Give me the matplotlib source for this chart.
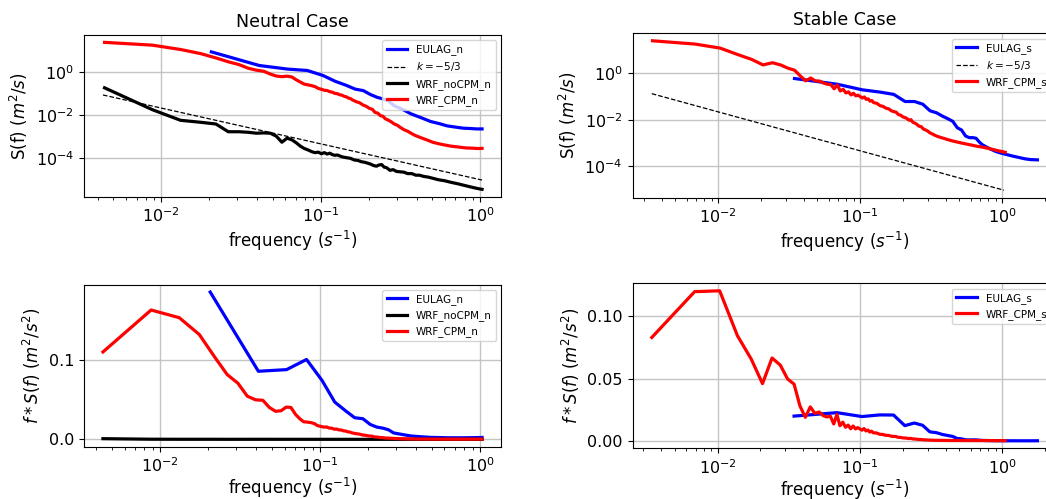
import numpy as np
import matplotlib
matplotlib.use("Agg")
import matplotlib.pyplot as plt
from matplotlib.ticker import NullLocator, FixedLocator

# ── Neutral case spectra S(f) ─────────────────────────────────────────
EULAG_N_F = [0.0206, 0.0412, 0.0618, 0.0824, 0.103, 0.1236, 0.1442, 0.1648,
             0.1854, 0.206, 0.2266, 0.2472, 0.2678, 0.2884, 0.33, 0.37, 0.43,
             0.49, 0.56, 0.62, 0.70, 0.78, 0.87, 0.95, 1.03]
EULAG_N_S = [9.0, 2.08, 1.42, 1.22, 0.72, 0.38, 0.25, 0.165, 0.14, 0.091,
             0.068, 0.057, 0.045, 0.028, 0.018, 0.0115, 0.0075, 0.0051,
             0.0040, 0.0032, 0.0028, 0.0025, 0.0024, 0.0023, 0.0023]

WRF_CPM_N_F = [0.0044, 0.0088, 0.0132, 0.0176, 0.022, 0.0263, 0.0307, 0.0351,
               0.0395, 0.0439, 0.0483, 0.0527, 0.0571, 0.0615, 0.0658, 0.0702,
               0.0746, 0.079, 0.0834, 0.0878, 0.0922, 0.0966, 0.101, 0.1054,
               0.1098, 0.1141, 0.1185, 0.1229, 0.1273, 0.1317, 0.1361, 0.1405,
               0.1449, 0.1493, 0.1537, 0.158, 0.1668, 0.1756, 0.1844, 0.1932,
               0.2019, 0.2107, 0.2195, 0.2283, 0.2371, 0.2459, 0.2546, 0.2634,
               0.2766, 0.2898, 0.303, 0.3161, 0.3337, 0.3513, 0.3688, 0.3908,
               0.4127, 0.439, 0.4698, 0.505, 0.549, 0.60, 0.66, 0.73, 0.81,
               0.90, 0.97, 1.03]
WRF_CPM_N_S = [25.0, 18.5, 11.6, 7.5, 4.7, 3.1, 2.3, 1.55, 1.26, 1.12, 0.83,
               0.67, 0.63, 0.66, 0.61, 0.45, 0.35, 0.28, 0.26, 0.24, 0.215,
               0.178, 0.162, 0.146, 0.142, 0.125, 0.118, 0.104, 0.101, 0.090,
               0.086, 0.076, 0.072, 0.063, 0.060, 0.052, 0.043, 0.038, 0.030,
               0.026, 0.021, 0.019, 0.0135, 0.0125, 0.0095, 0.0090, 0.0068,
               0.0061, 0.0050, 0.0039, 0.0034, 0.0027, 0.0021, 0.0018, 0.00145,
               0.00115, 0.00098, 0.00082, 0.00068, 0.00055, 0.00047, 0.00041,
               0.00036, 0.00033, 0.00030, 0.00029, 0.00028, 0.000285]

WRF_NOCPM_N_F = [0.0044, 0.0088, 0.0132, 0.0176, 0.022, 0.0263, 0.0307,
                 0.0351, 0.0395, 0.0439, 0.0483, 0.0527, 0.0571, 0.0615,
                 0.0658, 0.0702, 0.0746, 0.079, 0.0834, 0.0878, 0.0922,
                 0.0966, 0.101, 0.1054, 0.1098, 0.1141, 0.1185, 0.1229,
                 0.1273, 0.1361, 0.1449, 0.1537, 0.1624, 0.1712, 0.18, 0.1888,
                 0.1976, 0.2063, 0.2151, 0.2239, 0.2327, 0.2415, 0.2502, 0.259,
                 0.2722, 0.2854, 0.2986, 0.3161, 0.3337, 0.3513, 0.3732,
                 0.3952, 0.4171, 0.4435, 0.4742, 0.505, 0.549, 0.60, 0.66,
                 0.73, 0.81, 0.90, 0.97, 1.03]
WRF_NOCPM_N_S = [0.19, 0.018, 0.0058, 0.0047, 0.0039, 0.0017, 0.0017, 0.0016,
                 0.00145, 0.0015, 0.00145, 0.00105, 0.00055, 0.00085, 0.00072,
                 0.00052, 0.00036, 0.00028, 0.00024, 0.00020, 0.00018,
                 0.00019, 0.00016, 0.00018, 0.000155, 0.00017, 0.000145,
                 0.000135, 0.00014, 0.000115, 0.000105, 9.8e-5, 8.2e-5, 7.8e-5,
                 6.8e-5, 6.4e-5, 5.8e-5, 5.2e-5, 4.5e-5, 4.2e-5, 4.8e-5, 5.0e-5,
                 3.8e-5, 3.6e-5, 2.7e-5, 2.9e-5, 2.4e-5, 2.3e-5, 2.2e-5, 1.9e-5,
                 1.9e-5, 1.6e-5, 1.6e-5, 1.4e-5, 1.3e-5, 1.15e-5, 9.8e-6,
                 8.8e-6, 7.4e-6, 6.3e-6, 5.2e-6, 4.3e-6, 3.8e-6, 3.5e-6]

SLOPE_N_F = [0.0043, 1.03]
SLOPE_N_S = [0.088, 0.95e-5]

# ── Stable case spectra S(f) ──────────────────────────────────────────
EULAG_S_F = [0.0345, 0.069, 0.1035, 0.138, 0.1725, 0.207, 0.2415, 0.276,
             0.3105, 0.345, 0.3795, 0.414, 0.4485, 0.483, 0.5175, 0.552,
             0.586, 0.621, 0.655, 0.69, 0.724, 0.759, 0.828, 0.897, 0.966,
             1.035, 1.173, 1.311, 1.449, 1.587, 1.77]
EULAG_S_S = [0.58, 0.33, 0.19, 0.152, 0.121, 0.060, 0.060, 0.046, 0.024,
             0.0197, 0.0142, 0.0110, 0.0085, 0.0045, 0.0036, 0.0020, 0.0017,
             0.0017, 0.0016, 0.0011, 0.00085, 0.00072, 0.00055, 0.00044,
             0.00038, 0.00034, 0.00028, 0.00024, 0.00021, 0.000195, 0.00019]

WRF_CPM_S_F = [0.00345, 0.0069, 0.01035, 0.0138, 0.01725, 0.0207, 0.02415,
               0.0276, 0.03105, 0.0345, 0.03795, 0.0414, 0.04485, 0.0483,
               0.05175, 0.0552, 0.05865, 0.0621, 0.06555, 0.069, 0.07245,
               0.0759, 0.07935, 0.0828, 0.08625, 0.0897, 0.09315, 0.0966,
               0.1, 0.1035, 0.107, 0.1104, 0.114, 0.1173, 0.121, 0.1242,
               0.1311, 0.138, 0.1449, 0.152, 0.159, 0.166, 0.1725, 0.179,
               0.186, 0.193, 0.200, 0.2105, 0.221, 0.2277, 0.2346, 0.2415,
               0.2484, 0.259, 0.2691, 0.28, 0.29, 0.30, 0.3105, 0.3243, 0.338,
               0.352, 0.3726, 0.393, 0.414, 0.4485, 0.483, 0.5175, 0.552,
               0.60, 0.655, 0.72, 0.79, 0.86, 0.93, 1.0, 1.05]
WRF_CPM_S_S = [24.0, 17.3, 11.6, 6.1, 3.8, 2.22, 2.75, 2.2, 1.6, 1.32, 0.74,
               0.46, 0.61, 0.46, 0.45, 0.37, 0.33, 0.32, 0.21, 0.31, 0.17,
               0.20, 0.14, 0.155, 0.115, 0.135, 0.105, 0.112, 0.098, 0.085,
               0.094, 0.074, 0.078, 0.062, 0.066, 0.054, 0.050, 0.040, 0.037,
               0.031, 0.029, 0.024, 0.022, 0.021, 0.0165, 0.0155, 0.0132,
               0.0118, 0.0095, 0.0100, 0.0078, 0.0072, 0.0066, 0.0053, 0.0050,
               0.0039, 0.0036, 0.0032, 0.0027, 0.0024, 0.0021, 0.0019, 0.0017,
               0.00155, 0.0014, 0.00122, 0.0011, 0.0010, 0.00092, 0.00083,
               0.00074, 0.00067, 0.00060, 0.00053, 0.00047, 0.00043, 0.00040]

SLOPE_S_F = [0.00341, 1.03]
SLOPE_S_S = [0.13, 0.95e-5]

FREQ_LABEL = r"frequency $(s^{-1})$"
S_LABEL = r"S(f) $(m^2/s)$"
FS_LABEL = r"$f*S(f)$ $(m^2/s^2)$"

plt.rcParams["font.size"] = 11.5
plt.rcParams["axes.titlesize"] = 12.5
plt.rcParams["axes.labelsize"] = 12
plt.rcParams["grid.color"] = "#c4c4c4"
plt.rcParams["grid.linewidth"] = 1.0

LW = 2.3
W, H = 1046, 499


def px_axes(fig, x0, x1, y0, y1):
    """Add axes given pixel edges (y measured from the top)."""
    return fig.add_axes([x0 / W, 1 - y1 / H, (x1 - x0) / W, (y1 - y0) / H])


def style_log(ax, title=None):
    ax.set_xscale("log")
    ax.set_yscale("log")
    ax.yaxis.set_major_locator(FixedLocator([1e-4, 1e-2, 1e0]))
    ax.yaxis.set_minor_locator(NullLocator())
    ax.set_xlabel(FREQ_LABEL, labelpad=2.5)
    ax.set_ylabel(S_LABEL)
    ax.grid(True)
    if title:
        ax.set_title(title)
    ax.legend(loc="upper right", fontsize=7.5)


def style_lin(ax, yticks, fmt):
    ax.set_xscale("log")
    ax.set_yticks(yticks)
    ax.set_yticklabels([fmt.format(v) for v in yticks])
    ax.set_xlabel(FREQ_LABEL, labelpad=0.5)
    ax.set_ylabel(FS_LABEL)
    ax.grid(True)
    ax.legend(loc="upper right", fontsize=7.5)


fig = plt.figure(figsize=(W / 100, H / 100), dpi=100)

# Neutral, spectra
ax = px_axes(fig, 84, 501, 35, 196.7)
ax.plot(EULAG_N_F, EULAG_N_S, color="b", lw=LW, label="EULAG_n")
ax.plot(SLOPE_N_F, SLOPE_N_S, "k--", lw=0.9, label=r"$k=-5/3$")
ax.plot(WRF_NOCPM_N_F, WRF_NOCPM_N_S, color="k", lw=LW, label="WRF_noCPM_n")
ax.plot(WRF_CPM_N_F, WRF_CPM_N_S, color="r", lw=LW, label="WRF_CPM_n")
style_log(ax, "Neutral Case")

# Neutral, premultiplied
ax = px_axes(fig, 84, 501, 284.7, 446.7)
ax.plot(EULAG_N_F, np.multiply(EULAG_N_F, EULAG_N_S), color="b", lw=LW,
        label="EULAG_n")
ax.plot(WRF_NOCPM_N_F, np.multiply(WRF_NOCPM_N_F, WRF_NOCPM_N_S), color="k",
        lw=LW, label="WRF_noCPM_n")
ax.plot(WRF_CPM_N_F, np.multiply(WRF_CPM_N_F, WRF_CPM_N_S), color="r", lw=LW,
        label="WRF_CPM_n")
style_lin(ax, [0.0, 0.1], "{:.1f}")

# Stable, spectra
ax = px_axes(fig, 632.5, 1056.7, 33.3, 197.7)
ax.plot(EULAG_S_F, EULAG_S_S, color="b", lw=LW, label="EULAG_s")
ax.plot(SLOPE_S_F, SLOPE_S_S, "k--", lw=0.9, label=r"$k=-5/3$")
ax.plot(WRF_CPM_S_F, WRF_CPM_S_S, color="r", lw=LW, label="WRF_CPM_s")
style_log(ax, "Stable Case")

# Stable, premultiplied
ax = px_axes(fig, 632.5, 1056.7, 283.3, 448.3)
ax.plot(EULAG_S_F, np.multiply(EULAG_S_F, EULAG_S_S), color="b", lw=LW,
        label="EULAG_s")
ax.plot(WRF_CPM_S_F, np.multiply(WRF_CPM_S_F, WRF_CPM_S_S), color="r", lw=LW,
        label="WRF_CPM_s")
style_lin(ax, [0.0, 0.05, 0.10], "{:.2f}")

fig.savefig("out.png", dpi=100)
